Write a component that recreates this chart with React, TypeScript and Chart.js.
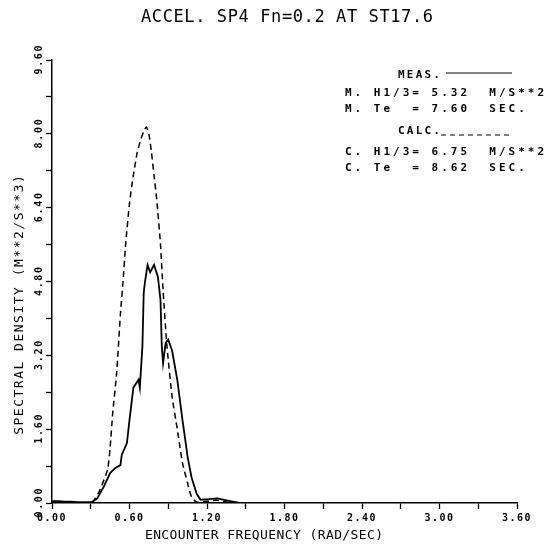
import React, { useEffect, useRef } from 'react';
import { Chart, registerables } from 'chart.js';
Chart.register(...registerables);

const titleText = 'ACCEL. SP4 Fn=0.2 AT ST17.6';
const xTitle = 'ENCOUNTER FREQUENCY (RAD/SEC)';
const yTitle = 'SPECTRAL DENSITY (M**2/S**3)';

const measX = [0, 0.05, 0.10, 0.15, 0.20, 0.25, 0.31, 0.35, 0.40, 0.45, 0.49, 0.53, 0.54, 0.58, 0.60, 0.63, 0.67, 0.68, 0.70, 0.71, 0.72, 0.74, 0.76, 0.79, 0.82, 0.84, 0.85, 0.86, 0.88, 0.90, 0.93, 0.97, 1.01, 1.05, 1.08, 1.12, 1.15, 1.20, 1.28, 1.36, 1.45, 3.6];
const measY = [0.04, 0.04, 0.03, 0.03, 0.02, 0.02, 0.02, 0.10, 0.35, 0.65, 0.76, 0.82, 1.04, 1.3, 1.8, 2.5, 2.67, 2.5, 3.4, 4.55, 4.8, 5.16, 5.0, 5.16, 4.9, 4.4, 3.4, 3.03, 3.47, 3.54, 3.3, 2.67, 1.8, 1.0, 0.56, 0.2, 0.07, 0.08, 0.1, 0.05, 0, 0];

const calcX = [0, 0.30, 0.33, 0.37, 0.43, 0.45, 0.47, 0.50, 0.53, 0.55, 0.57, 0.60, 0.63, 0.66, 0.69, 0.71, 0.73, 0.75, 0.77, 0.79, 0.81, 0.84, 0.86, 0.89, 0.93, 0.97, 1.01, 1.05, 1.08, 1.12, 1.20, 1.28, 1.35, 1.45, 3.6];
const calcY = [0, 0, 0.08, 0.28, 0.72, 1.2, 1.95, 2.8, 4.1, 4.8, 5.6, 6.5, 7.1, 7.6, 7.9, 8.05, 8.15, 8.0, 7.6, 7.1, 6.6, 5.6, 4.6, 3.4, 2.3, 1.6, 0.87, 0.43, 0.13, 0.02, 0.04, 0.06, 0.02, 0, 0];

const legendMeas = ['M. H1/3= 5.32  M/S**2', 'M. Te  = 7.60  SEC.'];
const legendCalc = ['C. H1/3= 6.75  M/S**2', 'C. Te  = 8.62  SEC.'];

const MONO = '"DejaVu Sans Mono", "Liberation Mono", monospace';

function drawText(ctx: any, s: string, x: number, y: number, font: string, spacing: number, align: string, rot = 0) {
  ctx.save();
  ctx.font = font;
  ctx.letterSpacing = spacing + 'px';
  ctx.fillStyle = '#000';
  ctx.textBaseline = 'middle';
  ctx.textAlign = 'left';
  const w = ctx.measureText(s).width - spacing;
  ctx.translate(x, y);
  ctx.rotate(rot);
  let sx = 0;
  if (align === 'center') sx = -w / 2;
  else if (align === 'right') sx = -w;
  ctx.fillText(s, sx, 0);
  ctx.restore();
}

const textPlugin = {
  id: 'textPlugin',
  beforeDraw(chart: any) {
    chart.ctx.letterSpacing = '1.5px';
  },
  afterDraw(chart: any) {
    const ctx = chart.ctx;
    const y = chart.scales.y;
    y.ticks.forEach((t: any, i: number) => {
      if (i % 2 !== 0) return;
      const py = y.getPixelForValue(t.value);
      drawText(ctx, Number(t.value).toFixed(2), 39, py, 'bold 10px ' + MONO, 1.7, 'center', -Math.PI / 2);
    });
    drawText(ctx, titleText, 287, 18, '17px ' + MONO, 0.6, 'center');
    drawText(ctx, xTitle, 264, 536, '13px ' + MONO, 0.4, 'center');
    drawText(ctx, yTitle, 20, 305, '13px ' + MONO, 1.5, 'center', -Math.PI / 2);
    const lf = 'bold 11px ' + MONO;
    drawText(ctx, 'MEAS.', 398, 75, lf, 2.2, 'left');
    drawText(ctx, legendMeas[0], 345, 93, lf, 3.0, 'left');
    drawText(ctx, legendMeas[1], 345, 109, lf, 3.0, 'left');
    drawText(ctx, 'CALC.', 398, 131, lf, 2.2, 'left');
    drawText(ctx, legendCalc[0], 345, 152, lf, 3.0, 'left');
    drawText(ctx, legendCalc[1], 345, 168, lf, 3.0, 'left');
    ctx.save();
    ctx.strokeStyle = '#000';
    ctx.lineWidth = 1.2;
    ctx.beginPath();
    ctx.moveTo(446, 73);
    ctx.lineTo(512, 73);
    ctx.stroke();
    ctx.setLineDash([5, 4]);
    ctx.beginPath();
    ctx.moveTo(441, 135);
    ctx.lineTo(512, 135);
    ctx.stroke();
    ctx.restore();
  },
};

export default function App() {
  const ref = useRef<HTMLCanvasElement>(null);
  useEffect(() => {
    const canvas = ref.current!;
    const chart = new Chart(canvas, {
      type: 'line',
      data: {
        datasets: [
          {
            label: 'MEAS.',
            data: measX.map((x, i) => ({ x, y: measY[i] })),
            borderColor: '#000',
            borderWidth: 1.8,
            pointRadius: 0,
            tension: 0,
            fill: false,
          },
          {
            label: 'CALC.',
            data: calcX.map((x, i) => ({ x, y: calcY[i] })),
            borderColor: '#000',
            borderWidth: 1.5,
            borderDash: [6, 4],
            pointRadius: 0,
            tension: 0.2,
            fill: false,
          },
        ],
      },
      options: {
        responsive: false,
        animation: false,
        layout: { padding: { left: 0, right: 36, top: 60, bottom: 0 }, autoPadding: false },
        plugins: { legend: { display: false }, title: { display: false }, tooltip: { enabled: false } },
        scales: {
          x: {
            type: 'linear',
            min: 0,
            max: 3.6,
            ticks: {
              stepSize: 0.3,
              autoSkip: false,
              maxRotation: 0,
              minRotation: 0,
              padding: 3,
              color: '#000',
              font: { family: MONO, size: 10, weight: 'bold' },
              callback: (v: any, i: number) => (i % 2 === 0 ? Number(v).toFixed(2) : ''),
            },
            grid: { drawOnChartArea: false, drawTicks: true, tickLength: 6, tickColor: '#000', tickWidth: 1.3 },
            border: { display: true, color: '#000', width: 1.5 },
            afterFit: (s: any) => { s.height = 47; },
          },
          y: {
            type: 'linear',
            min: 0,
            max: 9.6,
            ticks: { stepSize: 0.8, display: false },
            grid: { drawOnChartArea: false, drawTicks: true, tickLength: 6, tickColor: '#000', tickWidth: 1.3 },
            border: { display: true, color: '#000', width: 1.5 },
            afterFit: (s: any) => { s.width = 52; },
          },
        },
      },
      plugins: [textPlugin],
    } as any);
    return () => chart.destroy();
  }, []);
  return (
    <div style={{ position: 'absolute', left: 0, top: 0, width: 553, height: 550, background: '#fff' }}>
      <canvas ref={ref} width={553} height={550} style={{ display: 'block', width: 553, height: 550 }} />
    </div>
  );
}
